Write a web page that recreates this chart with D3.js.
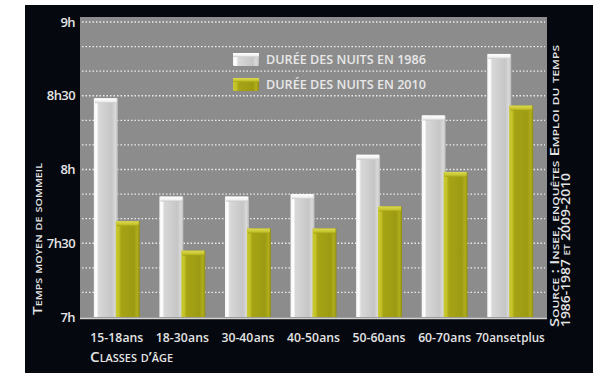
<!DOCTYPE html>
<html><head><meta charset="utf-8">
<script src="https://cdn.jsdelivr.net/npm/d3@7"></script>
<style>
html,body{margin:0;padding:0;background:#fff;}
text{font-family:"Open Sans","Noto Sans",sans-serif;}
</style></head>
<body><svg id="c" width="600" height="376"></svg>
<script>
const categories = ["15-18 ans","18-30 ans","30-40 ans","40-50 ans","50-60 ans","60-70 ans","70 ans et plus"];
const series = ["1986","2010"];
// minutes of sleep
const values1986 = [509, 469, 469, 470, 486, 502, 527];
const values2010 = [459, 447, 456, 456, 465, 479, 506];
const yTicks = [420, 450, 480, 510, 540];
const yTickLabels = ["7h","7h30","8h","8h30","9h"];
const legendLabels = ["DURÉE DES NUITS EN 1986","DURÉE DES NUITS EN 2010"];

const svg = d3.select("#c");
const defs = svg.append("defs");
function grad(id, stops, horiz=true){
  const g = defs.append("linearGradient").attr("id",id)
    .attr("x1","0").attr("y1","0").attr("x2",horiz?"1":"0").attr("y2",horiz?"0":"1");
  stops.forEach(s=>g.append("stop").attr("offset",s[0]).attr("stop-color",s[1]));
}
grad("g1986",[[0,"#f4f4f4"],[0.12,"#ffffff"],[0.2,"#d8d8d8"],[0.75,"#c6c6c6"],[0.9,"#dadada"],[1,"#bababa"]]);
grad("g2010",[[0,"#c8c830"],[0.12,"#c4c428"],[0.22,"#a6a414"],[0.75,"#9c9a12"],[0.9,"#b0ae1c"],[1,"#8e8c10"]]);
grad("c1986",[[0,"#ffffff"],[0.6,"#f2f2f2"],[1,"#c8c8c8"]],false);
grad("c2010",[[0,"#dada50"],[0.6,"#c8c630"],[1,"#a4a214"]],false);

// black panel
svg.append("rect").attr("x",25).attr("y",5).attr("width",568).attr("height",368).attr("fill","#05080f");
const plot = {l:80, r:547, t:17, b:318};
svg.append("rect").attr("x",plot.l).attr("y",plot.t).attr("width",plot.r-plot.l).attr("height",plot.b-plot.t).attr("fill","#8c8c8c");

const y = d3.scaleLinear().domain([420,540]).range([317,22]);
const x = d3.scaleBand().domain(categories).range([84,543]).paddingInner(0.3).paddingOuter(0.15);
const x1 = d3.scaleBand().domain(series).range([0,x.bandwidth()]);

// gridlines every 10 min
const grid = d3.range(430,541,10);
svg.append("g").selectAll("line").data(grid).join("line")
  .attr("x1",plot.l+2).attr("x2",plot.r-2)
  .attr("y1",d=>y(d)).attr("y2",d=>y(d))
  .attr("stroke","#ececec").attr("stroke-width",1.3).attr("stroke-dasharray","1.5,2");

// baseline
svg.append("line").attr("x1",plot.l).attr("x2",plot.r).attr("y1",plot.b+0.5).attr("y2",plot.b+0.5)
  .attr("stroke","#d0d0d0").attr("stroke-width",1.5);

// y axis
const yAxis = d3.axisLeft(y).tickValues(yTicks).tickFormat((d,i)=>yTickLabels[i]).tickSize(0).tickPadding(4);
const ya = svg.append("g").attr("transform",`translate(${plot.l-1},0)`).call(yAxis);
ya.select(".domain").remove();
ya.selectAll("text").attr("fill","#e4e4e4").attr("font-size",13).attr("font-weight",600)
  .attr("letter-spacing",-0.6).attr("font-family","Open Sans");

// bars
const data = categories.map((c,i)=>({c, v:[values1986[i], values2010[i]]}));
const groups = svg.append("g").selectAll("g").data(data).join("g")
  .attr("transform",d=>`translate(${x(d.c)},0)`);
series.forEach((s,si)=>{
  const w = x1.bandwidth()+1;
  groups.append("rect")
    .attr("x",x1(s)-(si?1:0)).attr("width",w)
    .attr("y",d=>y(d.v[si])).attr("height",d=>y(420)-y(d.v[si]))
    .attr("fill",`url(#g${s})`);
  groups.append("rect")
    .attr("x",x1(s)-(si?1:0)+1).attr("width",w-2)
    .attr("y",d=>y(d.v[si])).attr("height",5)
    .attr("fill",`url(#c${s})`);
});

// x labels
svg.append("g").selectAll("text").data(categories).join("text")
  .attr("x",d=>x(d)+x.bandwidth()/2).attr("y",342)
  .attr("text-anchor","middle").attr("fill","#e4e4e4")
  .attr("font-size",13).attr("font-weight",600)
  .attr("textLength",(d,i)=>i===6?69:53).attr("lengthAdjust","spacingAndGlyphs")
  .attr("word-spacing",-3)
  .text(d=>d);

svg.append("text").attr("x",90).attr("y",362).attr("fill","#e4e4e4")
  .attr("font-size",14).attr("font-weight",600).style("font-variant","small-caps")
  .attr("textLength",83).attr("lengthAdjust","spacingAndGlyphs")
  .text("Classes d’âge");

svg.append("text").attr("transform","translate(42,239) rotate(-90)").attr("text-anchor","middle")
  .attr("fill","#e4e4e4").attr("font-size",13).attr("font-weight",600).style("font-variant","small-caps")
  .attr("textLength",152).attr("lengthAdjust","spacingAndGlyphs")
  .text("Temps moyen de sommeil");

const src = svg.append("text").attr("transform","translate(559,327) rotate(-90)")
  .attr("fill","#e4e4e4").attr("font-size",12.5).attr("font-weight",600).style("font-variant","small-caps");
src.append("tspan").attr("x",0).attr("dy",0).attr("textLength",282).attr("lengthAdjust","spacingAndGlyphs")
  .text("Source : Insee, enquêtes Emploi du temps");
src.append("tspan").attr("x",0).attr("dy",11).attr("textLength",154).attr("lengthAdjust","spacingAndGlyphs")
  .text("1986-1987 et 2009-2010");

// legend
const lg = svg.append("g");
series.forEach((s,i)=>{
  const yy = 53 + i*25;
  lg.append("rect").attr("x",233).attr("y",yy).attr("width",26).attr("height",13).attr("fill",`url(#g${s})`).attr("rx",1.5);
  lg.append("rect").attr("x",233).attr("y",yy).attr("width",26).attr("height",4).attr("fill",`url(#c${s})`);
  lg.append("text").attr("x",266).attr("y",yy+11).attr("fill","#e8e8e8")
    .attr("font-size",13).attr("font-weight",600)
    .attr("textLength",160).attr("lengthAdjust","spacingAndGlyphs")
    .text(legendLabels[i]);
});
</script></body></html>
